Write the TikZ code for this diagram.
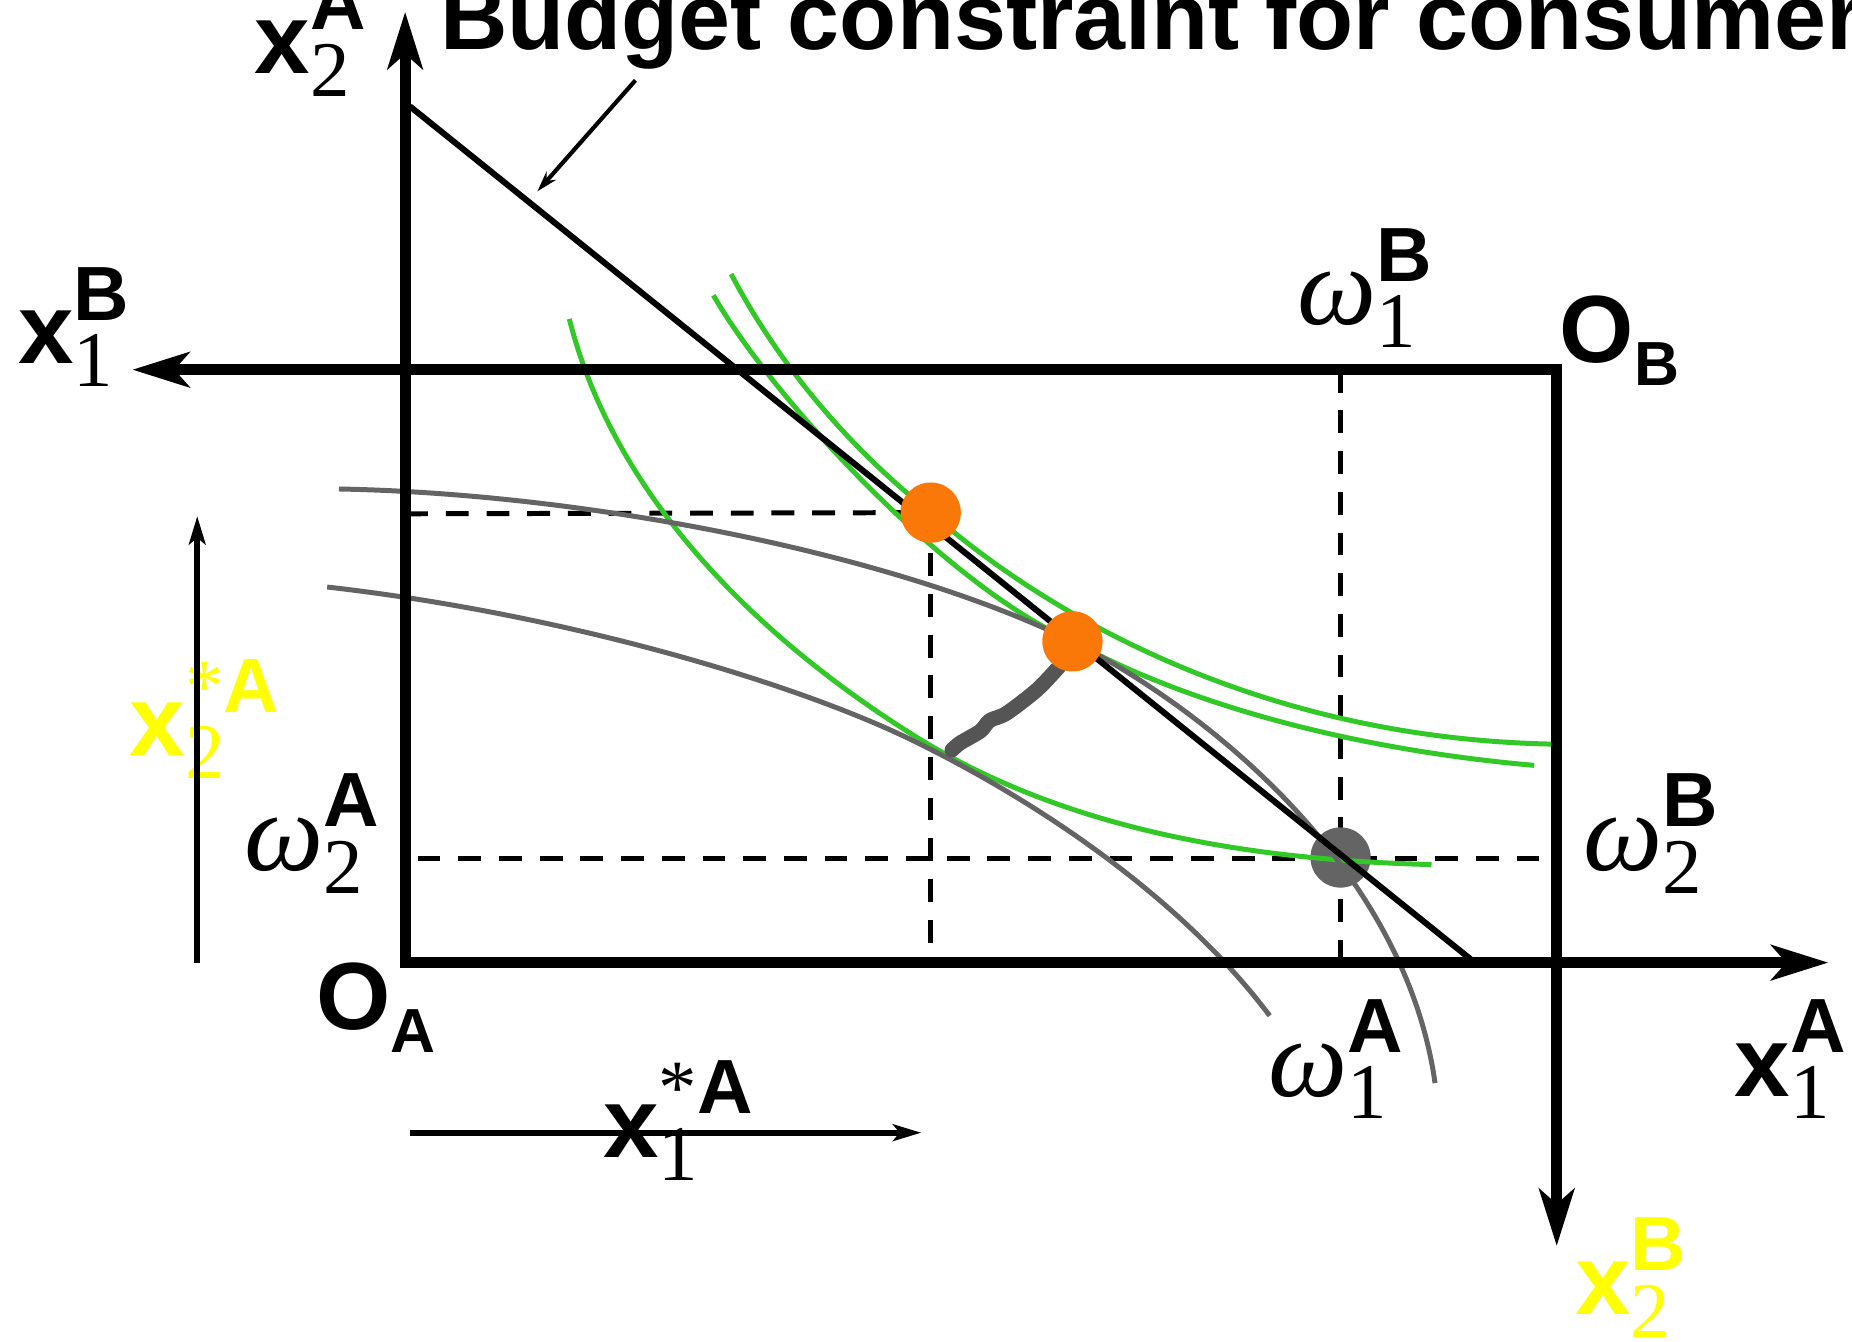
\documentclass[tikz,border=0pt]{standalone}
\usepackage{fontspec}
\setmainfont{Liberation Serif}
\newfontfamily\hsans{Liberation Sans}
\usepackage{tikz}
\usetikzlibrary{arrows.meta}

\definecolor{icgreen}{RGB}{50,200,40}
\definecolor{icgrey}{RGB}{100,100,100}
\definecolor{ccgrey}{RGB}{85,85,85}
\definecolor{dotorange}{RGB}{250,120,8}
\definecolor{lblyellow}{RGB}{255,255,0}

% base, subscript (serif digit), superscript (bold sans)
\newcommand{\supf}{\hsans\bfseries\fontsize{18.5}{20}\selectfont}
\newcommand{\subf}{\fontsize{19}{20}\selectfont}
\newcommand{\lbl}[3]{#1\makebox[0pt][l]{\raisebox{10.5pt}{\supf #3}}\raisebox{-5.5pt}{\subf #2}}
\newcommand{\vx}[2]{\lbl{{\hsans\bfseries x}}{#1}{#2}}
\newcommand{\vw}[2]{\lbl{{\fontsize{27}{30}\selectfont\itshape ω}}{#1}{#2}}
\newcommand{\vs}[1]{\lbl{{\hsans\bfseries x}}{#1}{{\rmfamily\mdseries *}A}}
\newcommand{\vo}[1]{{\hsans\bfseries O\raisebox{-5.4pt}{\fontsize{15}{16}\selectfont #1}}}

\begin{document}
\begin{tikzpicture}[
  x=0.01cm, y=-0.01cm,
  bigtip/.tip={Stealth[length=13.7pt, width=8.4pt, inset=3.6pt]},
  smalltip/.tip={Stealth[length=6.8pt, width=4pt, inset=1.6pt]},
  ax/.style={line width=2.65pt, line join=miter},
  tarr/.style={line width=1.35pt, -smalltip},
  bud/.style={line width=1.45pt},
  dsh/.style={line width=1.2pt, dash pattern=on 5.5pt off 4.3pt},
  icA/.style={icgreen, line width=1.2pt},
  icB/.style={icgrey, line width=1.2pt},
  cc/.style={ccgrey, line width=3.6pt, line cap=round, line join=round},
  edot/.style={circle, fill=dotorange, minimum size=0.51cm, inner sep=0pt},
  wdot/.style={circle, fill=icgrey, minimum size=0.51cm, inner sep=0pt},
  lab/.style={anchor=base west, inner sep=0pt, font=\fontsize{24}{28}\selectfont},
  olab/.style={lab, font=\fontsize{23}{27}\selectfont},
  ylab/.style={lab, text=lblyellow},
  bctxt/.style={anchor=base west, inner sep=0pt, font=\hsans\bfseries\fontsize{22.5}{26}\selectfont},
]
\clip (0,0) rectangle (1568,1136);

%% ─── points: origins, axis ends, allocations ────────────────────────────────
\coordinate (OA)     at (343,815);
\coordinate (OB)     at (1318,313);
\coordinate (x2Aend) at (343,10);
\coordinate (x1Aend) at (1548,815);
\coordinate (x1Bend) at (112,313);
\coordinate (x2Bend) at (1318,1055);
\coordinate (e1)     at (788,434);
\coordinate (e2)     at (908,543);
\coordinate (w)      at (1135,726);
\coordinate (bl0)    at (347,90);
\coordinate (bl1)    at (1245,812);

%% ─── dashed guides ──────────────────────────────────────────────────────────
\coordinate (y2s) at (343,435);
\coordinate (x1s) at (788,815);
\coordinate (w2A) at (343,727);
\coordinate (w2B) at (1318,727);
\coordinate (w1B) at (1135,313);
\coordinate (w1A) at (1135,815);
\draw[dsh] (y2s) -- (e1);
\draw[dsh] (e1) -- (x1s);
\draw[dsh, shorten <=3pt, shorten >=3pt] (w2A) -- (w2B);
\draw[dsh] (w1B) -- (w1A);

%% ─── endowment point ────────────────────────────────────────────────────────
\node[wdot] (wdot) at (w) {};

%% ─── indifference curves (A green, B grey) ──────────────────────────────────
\draw[icA] (482,270) .. controls (520,420) and (640,540) .. (779,626)
                     .. controls (900,700) and (1050,728) .. (1212,732);
\draw[icA] (604,250) .. controls (654,337) and (800,495) .. (e2)
                     .. controls (1008,598) and (1150,635) .. (1299,648);
\draw[icA] (619,232) .. controls (660,310) and (720,380) .. (e1)
                     .. controls (880,515) and (1060,625) .. (1314,630);
\draw[icB] (287,414) .. controls (500,418) and (760,470) .. (e2)
                     .. controls (1030,605) and (1190,740) .. (1215,917);
\draw[icB] (277,497) .. controls (480,520) and (680,580) .. (779,630)
                     .. controls (880,680) and (1000,760) .. (1075,860);

%% ─── budget line and core segment ───────────────────────────────────────────
\draw[bud] (bl0) -- (bl1);
\draw[cc] plot[smooth] coordinates {(897,564) (878,584) (852,604) (838,610) (830,619) (813,629) (806,635)};
\node[edot] (e1dot) at (e1) {};
\node[edot] (e2dot) at (e2) {};

%% ─── Edgeworth box axes ─────────────────────────────────────────────────────
\draw[ax, bigtip-bigtip] (x2Aend) -- (OA) -- (x1Aend);
\draw[ax, bigtip-bigtip] (x1Bend) -- (OB) -- (x2Bend);

%% ─── labels ─────────────────────────────────────────────────────────────────
\node[bctxt] (bctext) at (372,42) {Budget constraint for consumer};
\coordinate (bcp0) at (538,68);
\coordinate (bcp1) at (455,162);
\draw[line width=1pt, -{Stealth[length=5pt, width=3pt]}] (bcp0) -- (bcp1);

\node[lab]  (lx2A) at (215,62)   {\vx{2}{A}};
\node[lab]  (lx1B) at (15,308)   {\vx{1}{B}};
\node[lab]  (lw1B) at (1098,275) {\vw{1}{B}};
\node[olab] (lOB)  at (1320,307) {\vo{B}};
\node[ylab] (lx2s) at (109,640)  {\vs{2}};
\node[lab]  (lw2A) at (206,737)  {\vw{2}{A}};
\node[olab] (lOA)  at (267,872)  {\vo{A}};
\node[lab]  (lw1A) at (1073,928) {\vw{1}{A}};
\node[lab]  (lw2B) at (1340,737) {\vw{2}{B}};
\node[lab]  (lx1A) at (1468,928) {\vx{1}{A}};
\node[lab]  (lx1s) at (510,980)  {\vs{1}};
\node[ylab] (lx2B) at (1333,1113) {\vx{2}{B}};

%% ─── demand arrows ──────────────────────────────────────────────────────────
\coordinate (ys0) at (167,815);
\coordinate (ys1) at (167,437);
\coordinate (xs0) at (347,959);
\coordinate (xs1) at (780,959);
\draw[tarr] (ys0) -- (ys1);
\draw[tarr] (xs0) -- (xs1);

\end{tikzpicture}
\end{document}
